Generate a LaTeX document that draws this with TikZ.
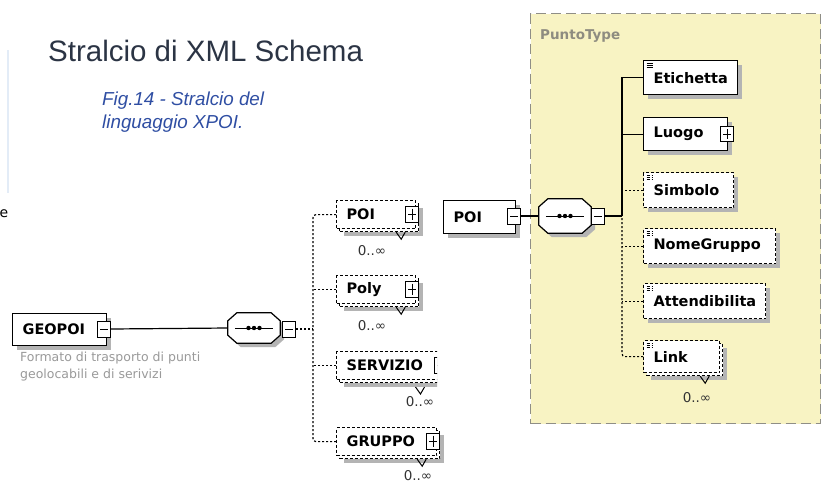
\documentclass[tikz,border=0pt]{standalone}
\usepackage{fontspec}
\setmainfont{DejaVu Sans}
\newfontfamily\titlefont{Liberation Sans}
\usetikzlibrary{shadows}
\definecolor{titlecol}{HTML}{2B3444}
\definecolor{capcol}{HTML}{2F4EA3}
\definecolor{desccol}{HTML}{9A9A9A}
\definecolor{shadecol}{HTML}{B4B4B4}
\definecolor{typefill}{HTML}{F8F3C3}
\definecolor{typeborder}{HTML}{8F8E86}
\definecolor{typelabel}{HTML}{8E8C80}
\definecolor{edgeblue}{HTML}{E3ECF7}
\newcommand\repmark[1]{\draw[line width=1pt] ([xshift=-20pt,yshift=-3pt]#1.south east) -- ++(5,7) -- ++(4,-7);}
\newcommand\octo[1]{%
  \filldraw[fill=white, draw=black, line width=1.2pt,
    general shadow={shadow xshift=4pt, shadow yshift=-4pt, fill=shadecol}]
    ([xshift=9pt]#1.north west) -- ([xshift=-9pt]#1.north east) -- ([yshift=-8pt]#1.north east)
    -- ([yshift=8pt]#1.south east) -- ([xshift=-9pt]#1.south east) -- ([xshift=9pt]#1.south west)
    -- ([yshift=8pt]#1.south west) -- ([yshift=-8pt]#1.north west) -- cycle;
  \draw[line width=1pt] ([xshift=7pt]#1.west) -- ([xshift=-7pt]#1.east);
  \fill (#1.center) circle (2.2pt) ([xshift=-5.5pt]#1.center) circle (2.2pt) ([xshift=5.5pt]#1.center) circle (2.2pt);}
\begin{document}
\begin{tikzpicture}[x=1pt,y=-1pt,
  base/.style={draw=black, line width=1.2pt, fill=white, anchor=north west,
    inner xsep=10pt, inner ysep=0pt, align=left,
    font=\fontsize{14.5}{16}\selectfont\bfseries},
  elem/.style={base, general shadow={shadow xshift=4pt, shadow yshift=-4pt, fill=shadecol}},
  opt/.style={elem, dash pattern=on 3pt off 2pt},
  multi/.style={base, dash pattern=on 3pt off 2pt,
    general shadow={shadow xshift=7pt, shadow yshift=-7pt, fill=shadecol},
    general shadow={shadow xshift=3pt, shadow yshift=-3pt, fill=white, draw=black,
      line width=1.2pt, dash pattern=on 3pt off 2pt}},
  icon/.style={path picture={
    \foreach \k in {3,5,7}{\draw[black, line width=.6pt] ([xshift=3pt,yshift=-\k pt]path picture bounding box.north west) -- ++(6pt,0pt);}}},
  sq/.style={draw=black, line width=1pt, fill=white, inner sep=0pt,
    minimum width=13pt, minimum height=16pt},
  minus/.style={sq, path picture={\draw[black, line width=1pt] ([xshift=2.5pt]path picture bounding box.west) -- ([xshift=-2.5pt]path picture bounding box.east);}},
  plus/.style={sq, path picture={\draw[black, line width=1pt] ([xshift=2.5pt]path picture bounding box.west) -- ([xshift=-2.5pt]path picture bounding box.east);
     \draw[black, line width=1pt] ([yshift=-2.5pt]path picture bounding box.north) -- ([yshift=2.5pt]path picture bounding box.south);}},
  seq/.style={rectangle, inner sep=0pt, minimum width=52pt},
  conn/.style={line width=1.2pt},
  dconn/.style={line width=1.2pt, dash pattern=on 2pt off 2pt},
  mult/.style={font=\fontsize{13.5}{15}\selectfont, text=black!80, inner sep=0pt}
]
\useasboundingbox (0,0) rectangle (827,483);
\fill[white] (0,0) rectangle (827,483);

% page remnants
\draw[edgeblue, line width=2pt] (8,50) -- (8,193);
\node[font=\fontsize{14}{16}\selectfont, inner sep=0pt] (cut) at (4,214) {e};

% title and caption
\node[anchor=west, font=\titlefont\fontsize{29.5}{32}\selectfont, text=titlecol, inner sep=0pt] (title) at (48,51) {Stralcio di XML Schema};
\node[anchor=north west, font=\titlefont\itshape\fontsize{18.8}{23}\selectfont, text=capcol, align=left, inner sep=0pt] (cap) at (102,92) {Fig.14 - Stralcio del\\linguaggio XPOI.};

% PuntoType container
\node[draw=typeborder, fill=typefill, line width=1.3pt, dash pattern=on 10pt off 5pt,
  minimum width=290pt, minimum height=410pt, anchor=north west, inner sep=0pt] (ptype) at (530,13) {};
\node[anchor=north west, text=typelabel, font=\fontsize{13.5}{15}\selectfont\bfseries, inner sep=0pt] (ptlabel) at (540,29) {PuntoType};

% GEOPOI
\node[elem, text width=74pt, minimum height=32pt] (geo) at (12,313) {GEOPOI};
\node[minus] (geoM) at (104,329) {};
\node[anchor=north west, font=\fontsize{12.5}{16.5}\selectfont, text=desccol, align=left, inner sep=0pt] (desc) at (20,352) {Formato di trasporto di punti\\geolocabili e di serivizi};

% sequence 1
\node[seq, minimum height=30pt] (seq1) at (254,328) {};
\octo{seq1}
\node[minus] (seq1M) at (289,329) {};
\coordinate (bus1) at (313,329);

% choice children
\node[multi, text width=59pt, minimum height=28pt] (poiA) at (336,200) {POI};
\node[plus] (poiAP) at (412,214) {};
\repmark{poiA}
\node[mult] (poiAm) at (372,251) {0..∞};

\node[multi, text width=59pt, minimum height=28pt] (polyA) at (336,275) {Poly};
\node[plus] (polyAP) at (412,289) {};
\repmark{polyA}
\node[mult] (polyAm) at (372,326) {0..∞};

\begin{scope}
\clip (320,340) rectangle (437,400);
\node[multi, text width=89pt, minimum height=28pt] (servA) at (336,351) {SERVIZIO};
\node[plus] (servAP) at (441,365) {};
\end{scope}
\draw[line width=1pt] (415.5,387) -- (420.5,394) -- (424.5,387);
\node[mult] (servAm) at (420,402) {0..∞};

\node[multi, text width=80pt, minimum height=28pt] (grpA) at (336,427) {GRUPPO};
\node[plus] (grpAP) at (433,441) {};
\repmark{grpA}
\node[mult] (grpAm) at (418,476) {0..∞};

% connectors left
\draw[conn] (geoM.east) -- (seq1.west);
\draw[dconn] (seq1M.east) -- (bus1);
\draw[dconn, rounded corners=3pt] (poiA.west) -| (bus1);
\draw[dconn, rounded corners=3pt] (grpA.west) -| (bus1);
\draw[dconn] (polyA.west) -- (polyA.west -| bus1);
\draw[dconn] (servA.west) -- (servA.west -| bus1);

% POI type
\node[elem, text width=52pt, minimum height=33pt] (poi2) at (443,200) {POI};
\node[minus] (poi2M) at (514,216) {};
\node[seq, minimum height=34pt] (seq2) at (565,216) {};
\octo{seq2}
\node[minus] (seq2M) at (598,216) {};
\coordinate (bus2) at (622,216);
\draw[conn] (poi2M.east) -- (seq2.west);
\draw[conn] (seq2M.east) -- (bus2);

% PuntoType children
\node[elem, icon, text width=74pt, minimum height=34pt] (etich) at (643,60) {Etichetta};
\node[elem, text width=64pt, minimum height=33pt] (luogo) at (643,117) {Luogo};
\node[plus, minimum height=15pt] (luogoP) at (727,134) {};
\node[opt, icon, text width=70pt, minimum height=35pt] (simb) at (643,172) {Simbolo};
\node[opt, icon, text width=112pt, minimum height=35pt] (nome) at (643,228) {NomeGruppo};
\node[opt, icon, text width=102pt, minimum height=35pt] (att) at (643,283) {Attendibilita};
\node[multi, icon, text width=56pt, minimum height=32pt] (link) at (643,340) {Link};
\repmark{link}
\node[mult] (linkm) at (697,398) {0..∞};

\draw[conn] (etich.west) -| (bus2);
\draw[conn] (luogo.west) -- (luogo.west -| bus2);
\draw[dconn] (simb.west) -- (simb.west -| bus2);
\draw[dconn] (nome.west) -- (nome.west -| bus2);
\draw[dconn] (att.west) -- (att.west -| bus2);
\draw[dconn, rounded corners=3pt] (link.west) -| (bus2);
\end{tikzpicture}
\end{document}
